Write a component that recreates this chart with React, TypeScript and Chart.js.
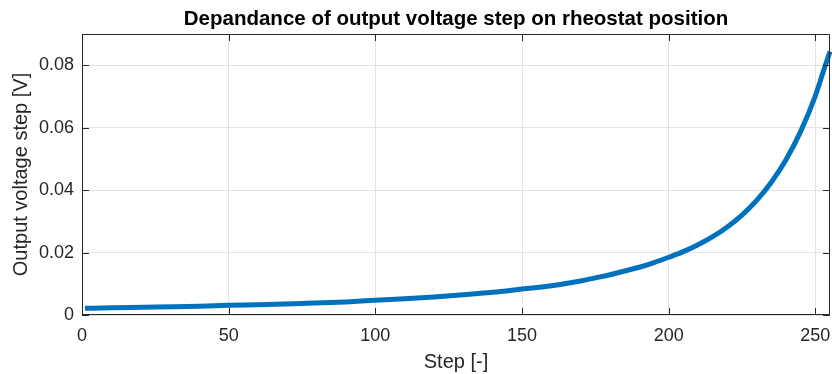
import React, { useEffect, useRef } from "react";
import { Chart, registerables } from "chart.js";

Chart.register(...registerables);

const titleText = "Depandance of output voltage step on rheostat position";
const xLabel = "Step [-]";
const yLabel = "Output voltage step [V]";

const steps = [
  1, 10, 25, 40, 50, 60, 75, 90, 100, 110, 120, 130, 140, 150, 155, 160, 165, 170, 175, 180,
  185, 190, 195, 200, 205, 210, 215, 220, 225, 230, 235, 240, 245, 250, 253, 255,
];
const voltageStep = [
  0.00215, 0.0023, 0.0026, 0.0028, 0.0031, 0.0033, 0.0037, 0.0042, 0.0047, 0.0052, 0.0058,
  0.0065, 0.0073, 0.0083, 0.0088, 0.0094, 0.0101, 0.0109, 0.0119, 0.0129, 0.0141, 0.0153,
  0.0168, 0.0185, 0.0203, 0.0225, 0.0251, 0.0282, 0.032, 0.0367, 0.0425, 0.0497, 0.0588,
  0.0702, 0.0788, 0.0844,
];

const xTicks = [0, 50, 100, 150, 200, 250];
const yTicks = [0, 0.02, 0.04, 0.06, 0.08];

const FONT = "'Liberation Sans', Arial, Helvetica, sans-serif";
const AXIS = "#262626";

const framePlugin = {
  id: "matlabFrame",
  afterDraw(chart: any) {
    const { ctx, chartArea } = chart;
    const { left, right, top, bottom } = chartArea;
    const xs = chart.scales.x;
    const ys = chart.scales.y;
    ctx.save();
    ctx.strokeStyle = AXIS;
    ctx.lineWidth = 1;
    ctx.beginPath();
    ctx.rect(left + 0.5, top + 0.5, right - left - 1, bottom - top - 1);
    ctx.stroke();
    const tl = 7;
    ctx.beginPath();
    for (const v of xTicks) {
      const px = Math.round(xs.getPixelForValue(v)) + 0.5;
      ctx.moveTo(px, bottom);
      ctx.lineTo(px, bottom - tl);
      ctx.moveTo(px, top);
      ctx.lineTo(px, top + tl);
    }
    for (const v of yTicks) {
      const py = Math.round(ys.getPixelForValue(v)) + 0.5;
      ctx.moveTo(left, py);
      ctx.lineTo(left + tl, py);
      ctx.moveTo(right, py);
      ctx.lineTo(right - tl, py);
    }
    ctx.stroke();
    ctx.fillStyle = "#000";
    ctx.font = `bold 20.5px ${FONT}`;
    ctx.textAlign = "center";
    ctx.textBaseline = "middle";
    ctx.fillText(titleText, (left + right) / 2, 19);
    ctx.restore();
  },
};

export default function App() {
  const ref = useRef<HTMLCanvasElement | null>(null);
  useEffect(() => {
    document.body.style.margin = "0";
    const canvas = ref.current;
    if (!canvas) return;
    const chart = new Chart(canvas, {
      type: "line",
      data: {
        datasets: [
          {
            data: steps.map((s, i) => ({ x: s, y: voltageStep[i] })),
            borderColor: "#0072BD",
            borderWidth: 5,
            pointRadius: 0,
            fill: false,
            cubicInterpolationMode: "monotone",
            clip: false as any,
          },
        ],
      },
      options: {
        responsive: false,
        animation: false,
        layout: { padding: { top: 34, right: 2, left: 0, bottom: 0 } },
        plugins: {
          legend: { display: false },
          tooltip: { enabled: false },
          title: { display: false },
        },
        scales: {
          x: {
            type: "linear",
            min: 0,
            max: 255,
            afterFit: (s: any) => {
              s.height = 59;
              s.paddingLeft = 0;
              s.paddingRight = 0;
            },
            ticks: {
              stepSize: 50,
              includeBounds: false,
              color: AXIS,
              font: { family: FONT, size: 18 },
              padding: 10,
              maxRotation: 0,
            },
            grid: { color: "#e3e3e3", drawTicks: false },
            border: { display: false },
            title: {
              display: true,
              text: xLabel,
              color: AXIS,
              font: { family: FONT, size: 20 },
              padding: { top: 0, bottom: 0 },
            },
          },
          y: {
            type: "linear",
            min: 0,
            max: 0.09,
            afterFit: (s: any) => {
              s.width = 82;
              s.paddingTop = 0;
              s.paddingBottom = 0;
            },
            ticks: {
              stepSize: 0.02,
              includeBounds: false,
              color: AXIS,
              font: { family: FONT, size: 18 },
              padding: 8,
              callback: (v: any) => (Number(v) === 0 ? "0" : Number(v).toFixed(2)),
            },
            grid: { color: "#e3e3e3", drawTicks: false },
            border: { display: false },
            title: {
              display: true,
              text: yLabel,
              color: AXIS,
              font: { family: FONT, size: 20 },
              padding: { top: 9, bottom: 0 },
            },
          },
        },
      },
      plugins: [framePlugin],
    });
    return () => chart.destroy();
  }, []);
  return <canvas ref={ref} width={832} height={374} style={{ display: "block" }} />;
}
